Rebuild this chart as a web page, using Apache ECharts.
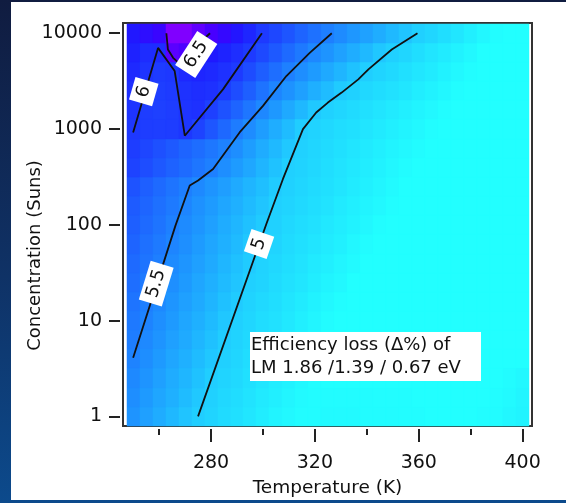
<!DOCTYPE html>
<html><head><meta charset="utf-8">
<script src="https://cdn.jsdelivr.net/npm/echarts@6/dist/echarts.min.js"></script>
<style>
html,body{margin:0;padding:0;width:566px;height:503px;overflow:hidden;}
body{background:linear-gradient(to bottom,#101c40 0%,#0f3266 55%,#0c4a8c 100%);position:relative;}
#panel{position:absolute;left:11px;top:2px;width:555px;height:498px;background:#fff;}
#chart{position:absolute;left:0;top:0;width:566px;height:503px;}
</style></head><body><div id="panel"></div><div id="chart"></div>
<script>
// ---- data ----
const temperatures = [250,255,260,265,270,275,280,285,290,295,300,305,310,315,320,325,330,335,340,345,350,355,360,365,370,375,380,385,390,395,400];
const concentrations = [1,1.585,2.512,3.981,6.31,10,15.85,25.12,39.81,63.1,100,158.5,251.2,398.1,631,1000,1585,2512,3981,6310,10000];
// efficiency loss (Δ%), one row per concentration (bottom row first), one column per temperature
const lossGrid = [
 [5.39,5.31,5.23,5.15,5.07,5.00,4.96,4.92,4.89,4.85,4.81,4.77,4.74,4.72,4.72,4.73,4.73,4.73,4.72,4.72,4.72,4.71,4.71,4.70,4.70,4.70,4.70,4.71,4.72,4.75,4.77],
 [5.43,5.35,5.27,5.20,5.12,5.04,4.98,4.94,4.91,4.87,4.83,4.80,4.76,4.73,4.72,4.72,4.72,4.72,4.72,4.71,4.71,4.71,4.70,4.70,4.70,4.70,4.70,4.70,4.71,4.73,4.76],
 [5.46,5.39,5.31,5.23,5.16,5.08,5.00,4.96,4.93,4.89,4.85,4.81,4.78,4.74,4.71,4.70,4.70,4.70,4.70,4.70,4.70,4.70,4.70,4.70,4.70,4.70,4.70,4.70,4.70,4.72,4.74],
 [5.50,5.43,5.35,5.27,5.20,5.12,5.05,4.99,4.95,4.91,4.87,4.83,4.79,4.75,4.72,4.70,4.70,4.70,4.70,4.70,4.70,4.70,4.70,4.70,4.70,4.70,4.70,4.70,4.70,4.70,4.70],
 [5.54,5.46,5.39,5.31,5.24,5.16,5.09,5.01,4.97,4.93,4.89,4.85,4.81,4.78,4.74,4.70,4.70,4.70,4.70,4.70,4.70,4.70,4.70,4.70,4.70,4.70,4.70,4.70,4.70,4.70,4.70],
 [5.57,5.50,5.42,5.35,5.27,5.20,5.13,5.05,4.99,4.95,4.91,4.88,4.84,4.80,4.76,4.72,4.70,4.70,4.70,4.70,4.70,4.70,4.70,4.70,4.70,4.70,4.70,4.70,4.70,4.70,4.70],
 [5.60,5.53,5.46,5.38,5.31,5.24,5.17,5.09,5.02,4.97,4.93,4.90,4.86,4.82,4.78,4.74,4.71,4.70,4.70,4.70,4.70,4.70,4.70,4.70,4.70,4.70,4.70,4.70,4.70,4.70,4.70],
 [5.64,5.56,5.49,5.42,5.35,5.27,5.20,5.13,5.06,4.99,4.96,4.92,4.88,4.85,4.81,4.77,4.74,4.70,4.70,4.70,4.70,4.70,4.70,4.70,4.70,4.70,4.70,4.70,4.70,4.70,4.70],
 [5.67,5.60,5.53,5.45,5.38,5.31,5.24,5.16,5.09,5.02,4.97,4.94,4.90,4.87,4.83,4.80,4.76,4.73,4.70,4.70,4.70,4.70,4.70,4.70,4.70,4.70,4.70,4.70,4.70,4.70,4.70],
 [5.71,5.63,5.56,5.49,5.42,5.34,5.27,5.20,5.13,5.05,4.99,4.96,4.92,4.89,4.86,4.82,4.79,4.75,4.72,4.70,4.70,4.70,4.70,4.70,4.70,4.70,4.70,4.70,4.70,4.70,4.70],
 [5.74,5.67,5.60,5.52,5.45,5.38,5.31,5.23,5.16,5.09,5.02,4.98,4.94,4.91,4.88,4.84,4.81,4.78,4.75,4.71,4.70,4.70,4.70,4.70,4.70,4.70,4.70,4.70,4.70,4.70,4.70],
 [5.77,5.70,5.63,5.56,5.49,5.41,5.34,5.27,5.20,5.13,5.06,4.99,4.96,4.93,4.90,4.87,4.83,4.80,4.77,4.74,4.71,4.70,4.70,4.70,4.70,4.70,4.70,4.70,4.70,4.70,4.70],
 [5.82,5.74,5.67,5.60,5.53,5.46,5.39,5.32,5.24,5.17,5.10,5.02,4.98,4.95,4.92,4.89,4.86,4.82,4.79,4.76,4.73,4.70,4.70,4.70,4.70,4.70,4.70,4.70,4.70,4.70,4.70],
 [5.93,5.86,5.79,5.72,5.66,5.59,5.52,5.43,5.34,5.26,5.17,5.08,4.99,4.97,4.94,4.90,4.87,4.84,4.81,4.78,4.75,4.72,4.70,4.70,4.70,4.70,4.70,4.70,4.70,4.70,4.70],
 [5.97,5.91,5.84,5.78,5.71,5.65,5.58,5.51,5.43,5.33,5.23,5.14,5.04,4.98,4.95,4.92,4.89,4.86,4.83,4.80,4.77,4.74,4.72,4.70,4.70,4.70,4.70,4.70,4.70,4.70,4.70],
 [6.00,5.97,5.96,5.97,6.01,5.93,5.80,5.68,5.55,5.44,5.33,5.22,5.12,5.01,4.97,4.94,4.91,4.89,4.86,4.83,4.80,4.77,4.74,4.71,4.70,4.70,4.70,4.70,4.70,4.70,4.70],
 [6.03,5.97,5.95,5.97,6.03,6.05,5.95,5.83,5.71,5.59,5.47,5.36,5.25,5.15,5.04,4.98,4.95,4.92,4.89,4.86,4.83,4.80,4.77,4.74,4.71,4.70,4.70,4.70,4.70,4.70,4.70],
 [6.06,6.00,5.96,5.98,6.04,6.07,6.05,5.98,5.86,5.74,5.61,5.49,5.40,5.31,5.21,5.12,5.02,4.98,4.94,4.91,4.88,4.85,4.81,4.78,4.75,4.71,4.70,4.70,4.70,4.70,4.70],
 [6.10,6.03,5.98,6.00,6.10,6.13,6.10,6.05,5.99,5.87,5.75,5.64,5.52,5.43,5.34,5.25,5.17,5.08,5.00,4.96,4.93,4.89,4.85,4.82,4.78,4.74,4.71,4.70,4.70,4.70,4.70],
 [6.15,6.08,6.08,6.55,6.50,6.28,6.21,6.14,6.07,5.99,5.89,5.78,5.67,5.57,5.47,5.39,5.30,5.22,5.14,5.05,4.99,4.95,4.90,4.86,4.82,4.78,4.74,4.70,4.70,4.70,4.70],
 [6.22,6.32,6.40,6.72,6.75,6.58,6.48,6.37,6.24,6.12,5.99,5.90,5.81,5.71,5.62,5.53,5.45,5.37,5.30,5.22,5.14,5.07,4.99,4.95,4.90,4.85,4.80,4.75,4.71,4.70,4.70]
];
// contour lines [temperature K, concentration suns]
const contour5  = [[275,1],[301.3,102],[307.7,301],[315.4,996],[320.5,1486],[325,1888],[330.3,2400],[336.7,3296],[340.6,4188],[349.6,6760],[359.5,10000]];
const contour55 = [[250,4.1],[266.3,98],[271.8,257],[275,290],[280.8,383],[291,921],[300,1744],[309,3573],[318,6240],[326.5,10000]];
const contour6  = [[250,921],[259.6,7030],[266,4030],[269.9,851],[284.6,2594],[299.6,10000]];
const contour65 = [[262.8,10000],[263.4,6760],[265.4,5540],[267.5,4900],[279.6,10000]];
const contourLabelText = ['6','6.5','5.5','5'];
const contourLabelAt = [[254.1,2455],[274.3,5995],[258.9,24.3],[298.5,63.1]];
const contourLabelAngle = [74,57,73,71];
const xMajorTicks = [280,320,360,400];
const xMinorTicks = [260,300,340,380];
const yTicks = [1,10,100,1000,10000];
const noteText = 'Efficiency loss (\u0394%) of\nLM 1.86 /1.39 / 0.67 eV';

// ---- chart ----
const FONT = 'DejaVu Sans';
const HALF_T = 2.5;                 // half cell width (K)
const HALF_LOG = Math.pow(10, 0.1); // half cell height (log step)
const cells = [];
lossGrid.forEach(function (row, r) {
  row.forEach(function (v, k) { cells.push([temperatures[k], concentrations[r], v]); });
});
const txt = {fontFamily: FONT, fontSize: 18, color: '#111'};
const tickTxt = {fontFamily: FONT, fontSize: 19, color: '#111'};
const tickStyle = {color: '#222', width: 2};
const chart = echarts.init(document.getElementById('chart'));
function lineSeries(data) {
  return {type: 'line', data: data, showSymbol: false, symbol: 'none', z: 3, silent: true,
    lineStyle: {color: '#111', width: 1.8}};
}
chart.setOption({
  animation: false,
  backgroundColor: 'transparent',
  grid: {left: 123, top: 23, width: 409, height: 405, show: true, borderColor: '#333', borderWidth: 2, backgroundColor: 'transparent'},
  xAxis: [{
    type: 'value', min: 246.1, max: 403.6, position: 'bottom', offset: 3,
    axisLine: {show: false}, splitLine: {show: false},
    axisTick: {show: true, customValues: xMajorTicks, length: 13, lineStyle: tickStyle},
    axisLabel: Object.assign({customValues: xMajorTicks, margin: 34, verticalAlign: 'middle'}, tickTxt),
    name: 'Temperature (K)', nameLocation: 'middle', nameGap: 50, nameMoveOverlap: false,
    nameTextStyle: Object.assign({}, txt, {fontSize: 18.5})
  }, {
    type: 'value', min: 246.1, max: 403.6, position: 'bottom', offset: 3,
    axisLine: {show: false}, splitLine: {show: false},
    axisTick: {show: true, customValues: xMinorTicks, length: 6, lineStyle: tickStyle},
    axisLabel: {show: false}
  }],
  yAxis: {
    type: 'log', logBase: 10, min: 0.793, max: 12790, offset: 3,
    axisLine: {show: false}, splitLine: {show: false},
    axisTick: {show: true, customValues: yTicks, length: 11, lineStyle: tickStyle},
    axisLabel: Object.assign({customValues: yTicks, margin: 18, formatter: function (v) { return String(v); }}, tickTxt),
    name: 'Concentration (Suns)', nameLocation: 'middle', nameGap: 76, nameRotate: 90, nameMoveOverlap: false,
    nameTextStyle: Object.assign({padding: [0, 62, 0, 0]}, txt)
  },
  visualMap: {
    type: 'continuous', show: false, min: 4.7, max: 6.7, dimension: 2, seriesIndex: 0,
    inRange: {color: ['#22ffff', '#20d6ff', '#1fb0ff', '#1e8bff', '#1e65ff', '#1e40ff', '#1e1aff', '#4000ff', '#8000ff']}
  },
  series: [
    {
      type: 'custom', data: cells, encode: {x: 0, y: 1}, z: 1, silent: true,
      renderItem: function (params, api) {
        const t = api.value(0), c = api.value(1);
        const p0 = api.coord([t - HALF_T, c / HALF_LOG]);
        const p1 = api.coord([t + HALF_T, c * HALF_LOG]);
        const x0 = Math.round(p0[0]), x1 = Math.round(p1[0]);
        const y0 = Math.round(p1[1]), y1 = Math.round(p0[1]);
        return {type: 'rect', shape: {x: x0, y: y0, width: x1 - x0, height: y1 - y0},
          style: {fill: api.visual('color'), stroke: api.visual('color'), lineWidth: 0.5}};
      }
    },
    lineSeries(contour5), lineSeries(contour55), lineSeries(contour6), lineSeries(contour65),
    {
      type: 'scatter', z: 5, silent: true, symbolSize: 1, itemStyle: {color: '#fff', opacity: 1},
      data: contourLabelAt.map(function (p, i) {
        return {value: p, label: {formatter: contourLabelText[i], rotate: contourLabelAngle[i]}};
      }),
      label: Object.assign({show: true, position: 'inside', opacity: 1, backgroundColor: '#fff', padding: [3, 6], lineHeight: 18}, txt)
    }
  ],
  graphic: [
    {type: 'rect', z: 100, shape: {x: 250, y: 332, width: 231, height: 49}, style: {fill: '#fff'}},
    {type: 'text', z: 101, x: 251, y: 333.5, style: {text: noteText, font: '18px "DejaVu Sans"', fill: '#111', lineHeight: 23}}
  ]
});
</script></body></html>
